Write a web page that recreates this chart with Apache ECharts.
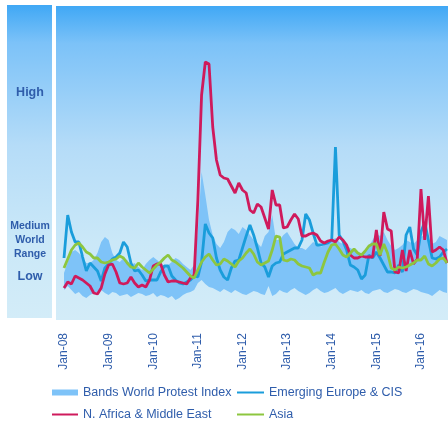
<!DOCTYPE html>
<html><head><meta charset="utf-8">
<script src="https://cdn.jsdelivr.net/npm/echarts@6/dist/echarts.min.js"></script>
<style>html,body{margin:0;padding:0;background:#fff;}#c{width:448px;height:421px;}</style>
</head><body><div id="c"></div>
<script>
// Monthly categories Jan-08 .. Aug-16
var monthNames = ['Jan','Feb','Mar','Apr','May','Jun','Jul','Aug','Sep','Oct','Nov','Dec'];
var years = ['08','09','10','11','12','13','14','15','16'];
var categories = [];
years.forEach(function(y){ monthNames.forEach(function(m){ categories.push(m + '-' + y); }); });
categories = categories.slice(0, 104);

// Index values (relative protest intensity)
var emergingEurope = [62,105,88,78,78,63,49,57,53,49,39,52,56,61,63,67,78,73,57,49,50,45,39,40,40,40,48,54,54,44,40,37,36,38,40,44,
  43,58,96,87,82,62,50,43,40,52,59,60,72,84,95,85,72,57,53,43,54,57,58,66,68,70,72,72,80,106,100,87,75,75,76,77,80,173,85,79,70,55,53,50,41,45,65,62,68,62,55,48,48,47,55,48,85,93,71,65,88,98,80,62,61,63,68,71];
var nAfricaME = [32,38,36,44,42,40,37,34,27,26,32,46,55,56,48,37,36,37,43,37,33,35,33,40,54,56,56,45,38,39,39,38,37,36,42,45,
  120,225,258,256,193,160,145,142,141,134,127,137,130,127,110,107,116,113,102,91,130,115,115,92,93,100,106,101,84,84,86,87,85,79,77,79,80,78,83,80,75,65,62,62,64,63,63,63,90,64,108,91,89,48,47,70,49,70,56,61,131,80,124,68,70,73,70,57];
var asia = [52,61,70,75,77,73,68,66,62,62,58,57,58,60,61,64,62,57,53,52,57,53,50,47,51,55,58,62,65,60,58,55,52,48,44,42,
  50,58,63,66,60,55,56,61,59,56,53,59,62,67,71,66,58,55,57,59,70,84,83,60,59,61,60,56,54,53,52,45,47,47,58,68,75,76,71,65,63,67,71,67,65,69,74,76,76,65,76,67,52,50,53,52,53,55,57,60,60,64,56,54,57,61,62,57];
var bandUpper = [47,58,68,70,67,62,57,57,60,67,78,83,80,67,60,58,62,60,55,57,53,50,56,60,63,60,57,54,55,58,62,60,56,53,50,55,
  90,148,125,100,85,76,72,78,88,92,90,86,93,90,85,80,77,73,84,88,105,80,80,85,88,82,76,72,72,70,74,78,75,73,75,77,80,82,78,76,74,72,70,68,66,70,74,80,86,84,88,80,74,70,72,75,80,78,76,80,83,85,80,76,78,84,82,80];
var bandLower = [30,34,30,26,28,24,22,25,27,28,30,27,25,28,27,24,25,26,23,25,27,26,24,25,27,23,25,24,22,24,20,22,25,27,28,30,
  37,40,36,33,32,30,28,31,29,27,30,28,26,25,27,29,28,26,25,34,24,26,30,28,27,30,32,29,27,25,27,30,32,29,27,28,30,32,28,26,28,30,29,28,30,27,26,29,30,31,28,27,29,31,30,28,27,29,31,30,28,27,26,24,27,30,28,27];

var seriesNames = ['Bands World Protest Index','Emerging Europe & CIS','N. Africa & Middle East','Asia'];
var colors = {band:'#7ec3f8', blue:'#1a9ddb', red:'#cf1a5c', green:'#8dc63f', text:'#2f5dab'};

var bandDiff = bandUpper.map(function(v,i){ return v - bandLower[i]; });

function bgGrad(){
  return new echarts.graphic.LinearGradient(0,0,0,1,[
    {offset:0,color:'#40a8f5'},
    {offset:0.12,color:'#7cc2f8'},
    {offset:0.45,color:'#b5dcf8'},
    {offset:0.75,color:'#cae8f8'},
    {offset:1,color:'#d3ecf8'}
  ]);
}
var ff = '"Liberation Sans", Arial, sans-serif';

var chart = echarts.init(document.getElementById('c'), null, {renderer:'canvas'});
var legendText = {color:colors.text, fontSize:12.5, fontFamily:ff};
function txt(t, y, size){
  return {type:'text', z:-5, x:30, y:y, style:{text:t, fill:colors.text, fontSize:size, fontWeight:'bold', fontFamily:ff, textAlign:'center', textVerticalAlign:'middle'}};
}
chart.setOption({
  animation:false,
  backgroundColor:'#ffffff',
  graphic:[
    {type:'rect', z:-10, shape:{x:7,y:5,width:45,height:313}, style:{fill:bgGrad()}},
    {type:'rect', z:-10, shape:{x:56,y:6,width:392,height:314}, style:{fill:bgGrad()}},
    txt('High', 93, 12.5),
    txt('Medium', 226, 10.5),
    txt('World', 240, 10.5),
    txt('Range', 254, 10.5),
    txt('Low', 277, 12.5)
  ],
  grid:{left:64, right:1, top:6, bottom:101},
  xAxis:{
    type:'category', data:categories, boundaryGap:false,
    axisLine:{show:false}, axisTick:{show:false}, splitLine:{show:false},
    axisLabel:{interval:11, rotate:90, margin:13, color:colors.text, fontSize:12, fontFamily:ff}
  },
  yAxis:{type:'value', min:0, max:314, show:false, splitLine:{show:false}},
  legend:[
    {left:52, top:386, padding:0, itemWidth:26, itemHeight:6, icon:'rect', textStyle:legendText, data:[{name:seriesNames[0], itemStyle:{color:colors.band}}], selectedMode:false},
    {left:237, top:386, padding:0, itemWidth:27, itemHeight:2, icon:'rect', textStyle:legendText, data:[{name:seriesNames[1], itemStyle:{color:colors.blue}}], selectedMode:false},
    {left:52, top:408, padding:0, itemWidth:26, itemHeight:2, icon:'rect', textStyle:legendText, data:[{name:seriesNames[2], itemStyle:{color:colors.red}}], selectedMode:false},
    {left:237, top:408, padding:0, itemWidth:27, itemHeight:2, icon:'rect', textStyle:legendText, data:[{name:seriesNames[3], itemStyle:{color:colors.green}}], selectedMode:false}
  ],
  series:[
    {name:'bandBase', type:'line', stack:'band', data:bandLower, symbol:'none', lineStyle:{opacity:0}, silent:true, z:1},
    {name:seriesNames[0], type:'line', stack:'band', data:bandDiff, symbol:'none', lineStyle:{opacity:0}, itemStyle:{color:colors.band}, areaStyle:{color:colors.band, opacity:1}, z:1},
    {name:seriesNames[1], type:'line', data:emergingEurope, symbol:'none', lineStyle:{width:2.8, color:colors.blue}, itemStyle:{color:colors.blue}, z:3},
    {name:seriesNames[2], type:'line', data:nAfricaME, symbol:'none', lineStyle:{width:2.8, color:colors.red}, itemStyle:{color:colors.red}, z:4},
    {name:seriesNames[3], type:'line', data:asia, symbol:'none', lineStyle:{width:2.8, color:colors.green}, itemStyle:{color:colors.green}, z:5}
  ]
});
</script></body></html>
